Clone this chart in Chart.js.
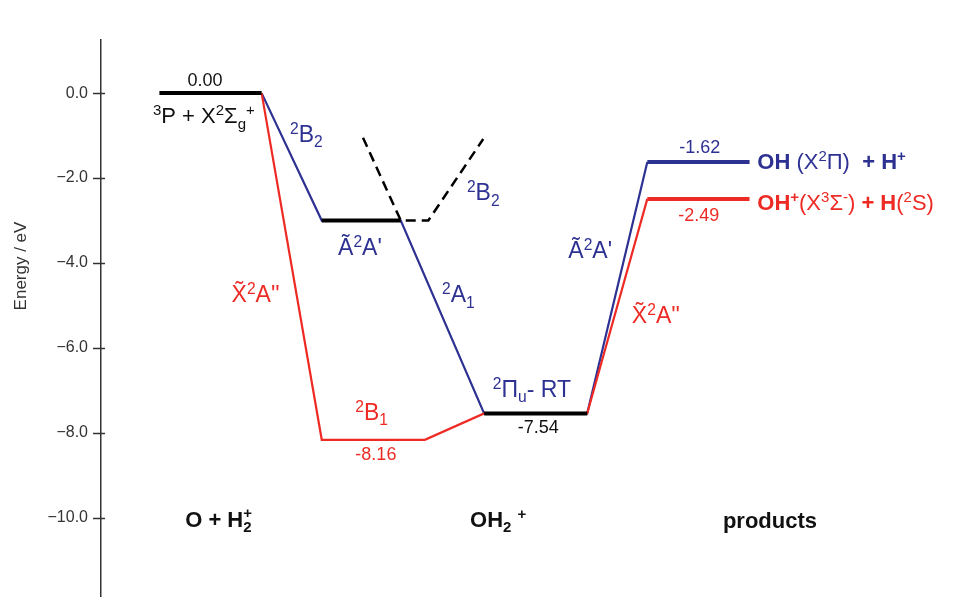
<!DOCTYPE html>
<html>
<head>
<meta charset="utf-8">
<script src="https://cdn.jsdelivr.net/npm/chart.js@4.4.1/dist/chart.umd.min.js"></script>
<style>
  html, body { margin: 0; padding: 0; background: #fff; }
  #wrap { width: 960px; height: 597px; }
</style>
</head>
<body>
<div id="wrap"><canvas id="pes"></canvas></div>
<script>
// reaction coordinate in arbitrary units (0-100), energies in eV
const levelX0 = [6.8, 25.7, 44.6];
const levelX1 = [18.7, 34.9, 56.6];
const levelE = [0.00, -3.00, -7.54];

// A' surface (blue)
const aPrimeX = [18.7, 25.7, 34.9, 44.6, 56.6, 63.6];
const aPrimeE = [0.00, -3.00, -3.00, -7.54, -7.54, -1.62];
// A'' surface (red)
const aDblX = [18.7, 25.7, 37.7, 44.6, 56.6, 63.6];
const aDblE = [0.00, -8.16, -8.16, -7.54, -7.54, -2.49];
// 2B2 branch (dashed)
const b2X = [30.5, 34.9, 38.1, 44.5];
const b2E = [-1.05, -3.00, -3.00, -1.08];
// product asymptotes
const prodX = [63.6, 75.5];
const prodE = [-1.62, -2.49];

const BLUE = '#2d3192';
const RED = '#ee2a24';
const FONT = '"Liberation Sans", Arial, Helvetica, sans-serif';

function pts(xs, es) {
  return xs.map((x, i) => ({x: x, y: es[i]}));
}
function flat(x0, x1, e) {
  return [{x: x0, y: e}, {x: x1, y: e}];
}

var datasets = [];
for (let i = 0; i < levelE.length; i++) {
  datasets.push({data: flat(levelX0[i], levelX1[i], levelE[i]), borderColor: '#000', borderWidth: 4});
}
datasets.push({data: flat(prodX[0], prodX[1], prodE[0]), borderColor: BLUE, borderWidth: 4});
datasets.push({data: flat(prodX[0], prodX[1], prodE[1]), borderColor: RED, borderWidth: 4});
datasets.push({data: pts(b2X, b2E), borderColor: '#000', borderWidth: 2.5, borderDash: [10, 6]});
datasets.push({data: pts(aDblX, aDblE), borderColor: RED, borderWidth: 2.2});
datasets.push({data: pts(aPrimeX, aPrimeE), borderColor: BLUE, borderWidth: 2.2});

// text parts: [text, kind]  kind: '' normal, 'b' bold, '^' sup, '_' sub, '_^' stacked "sub|sup"
const notes = [
  {x: 12.1, e: 0.165, size: 18, color: '#111', align: 'center', parts: [[levelE[0].toFixed(2), '']]},
  {x: 6.05, e: -0.71, size: 22, color: '#111', parts: [['3', '^'], ['P + X', ''], ['2', '^'], ['\u03a3', ''], ['g', '_'], ['+', '^']]},
  {x: 22.0, e: -1.15, size: 23, color: BLUE, parts: [['2', '^'], ['B', ''], ['2', '_']]},
  {x: 27.6, e: -3.81, size: 23, color: BLUE, parts: [['\u00c3', ''], ['2', '^'], ['A\'', '']]},
  {x: 42.6, e: -2.52, size: 23, color: BLUE, parts: [['2', '^'], ['B', ''], ['2', '_']]},
  {x: 39.7, e: -4.92, size: 23, color: BLUE, parts: [['2', '^'], ['A', ''], ['1', '_']]},
  {x: 15.2, e: -4.92, size: 23, color: RED, parts: [['X\u0303', ''], ['2', '^'], ['A\'\'', '']]},
  {x: 29.6, e: -7.69, size: 23, color: RED, parts: [['2', '^'], ['B', ''], ['1', '_']]},
  {x: 32.0, e: -8.635, size: 18, color: RED, align: 'center', parts: [[aDblE[1].toFixed(2), '']]},
  {x: 45.6, e: -7.15, size: 23, color: BLUE, parts: [['2', '^'], ['\u03a0', ''], ['u', '_'], ['- RT', '']]},
  {x: 50.9, e: -8.0, size: 18, color: '#111', align: 'center', parts: [[levelE[2].toFixed(2), '']]},
  {x: 54.4, e: -3.88, size: 23, color: BLUE, parts: [['\u00c3', ''], ['2', '^'], ['A\'', '']]},
  {x: 61.8, e: -5.41, size: 23, color: RED, parts: [['X\u0303', ''], ['2', '^'], ['A\'\'', '']]},
  {x: 69.7, e: -1.41, size: 18, color: BLUE, align: 'center', parts: [[prodE[0].toFixed(2), '']]},
  {x: 69.6, e: -3.01, size: 18, color: RED, align: 'center', parts: [[prodE[1].toFixed(2), '']]},
  {x: 76.4, e: -1.79, size: 22, color: BLUE, parts: [['OH ', 'b'], ['(X', ''], ['2', '^'], ['\u03a0)  ', ''], ['+ H', 'b'], ['+', 'b^']]},
  {x: 76.4, e: -2.75, size: 22, color: RED, parts: [['OH', 'b'], ['+', 'b^'], ['(X', ''], ['3', '^'], ['\u03a3', ''], ['-', '^'], [') ', ''], ['+ H', 'b'], ['(', ''], ['2', '^'], ['S)', '']]},
  {x: 9.8, e: -10.21, size: 22, color: '#111', parts: [['O + H', 'b'], ['2|+', 'b_^']]},
  {x: 42.96, e: -10.21, size: 22, color: '#111', parts: [['OH', 'b'], ['2', 'b_'], [' ', 'b'], ['+', 'b^']]},
  {x: 72.4, e: -10.24, size: 22, color: '#111', parts: [['products', 'b']]}
];

function partFont(kind, size) {
  const small = kind.indexOf('^') >= 0 || kind.indexOf('_') >= 0;
  const s = small ? size * 0.68 : size;
  return (kind.indexOf('b') >= 0 ? 'bold ' : '') + s.toFixed(1) + 'px ' + FONT;
}

function drawRich(ctx, n, x, y) {
  ctx.save();
  ctx.fillStyle = n.color;
  ctx.textAlign = 'left';
  ctx.textBaseline = 'alphabetic';
  const widths = n.parts.map(function (p) {
    ctx.font = partFont(p[1], n.size);
    if (p[1].indexOf('_^') >= 0) {
      const ab = p[0].split('|');
      return Math.max(ctx.measureText(ab[0]).width, ctx.measureText(ab[1]).width);
    }
    return ctx.measureText(p[0]).width;
  });
  const total = widths.reduce((a, b) => a + b, 0);
  let cx = n.align === 'center' ? x - total / 2 : x;
  n.parts.forEach(function (p, i) {
    const k = p[1];
    ctx.font = partFont(k, n.size);
    if (k.indexOf('_^') >= 0) {
      const ab = p[0].split('|');
      ctx.fillText(ab[0], cx, y + n.size * 0.24);
      ctx.fillText(ab[1], cx, y - n.size * 0.42);
    } else if (k.indexOf('^') >= 0) {
      ctx.fillText(p[0], cx, y - n.size * 0.36);
    } else if (k.indexOf('_') >= 0) {
      ctx.fillText(p[0], cx, y + n.size * 0.24);
    } else {
      ctx.fillText(p[0], cx, y);
    }
    cx += widths[i];
  });
  ctx.restore();
}

const diagramText = {
  id: 'diagramText',
  afterDraw(chart) {
    const ctx = chart.ctx;
    const xs = chart.scales.x, ys = chart.scales.y;
    const axisX = ys.right;
    // tick marks crossing the axis, short ones for odd values
    ctx.save();
    ctx.strokeStyle = '#333';
    ctx.lineWidth = 1.5;
    ys.ticks.forEach(function (t) {
      const py = Math.round(ys.getPixelForValue(t.value)) + 0.5;
      const major = Math.abs(t.value % 2) < 1e-6;
      ctx.beginPath();
      ctx.moveTo(axisX - (major ? 8 : 5), py);
      ctx.lineTo(axisX + 4, py);
      ctx.stroke();
    });
    ctx.restore();

    // axis title
    ctx.save();
    ctx.translate(21, 266);
    ctx.rotate(-Math.PI / 2);
    ctx.font = '17px ' + FONT;
    ctx.fillStyle = '#333';
    ctx.textAlign = 'center';
    ctx.textBaseline = 'middle';
    ctx.fillText('Energy / eV', 0, 0);
    ctx.restore();

    notes.forEach(function (n) {
      drawRich(ctx, n, xs.getPixelForValue(n.x), ys.getPixelForValue(n.e));
    });
  }
};

const ctx = document.getElementById('pes');
const pesChart = new Chart(ctx, {
  type: 'line',
  data: {datasets: datasets},
  options: {
    responsive: true,
    maintainAspectRatio: false,
    animation: false,
    layout: {padding: {top: 40, right: 0, bottom: 0, left: 0}},
    elements: {
      point: {radius: 0, hoverRadius: 0},
      line: {tension: 0, fill: false, borderJoinStyle: 'miter', borderCapStyle: 'butt'}
    },
    plugins: {legend: {display: false}, tooltip: {enabled: false}},
    events: [],
    scales: {
      x: {type: 'linear', min: 0, max: 100, display: false},
      y: {
        type: 'linear',
        min: -11.86,
        max: 1.25,
        afterFit: function (scale) {
          scale.width = 101;
          scale.paddingTop = 0;
          scale.paddingBottom = 0;
        },
        grid: {display: false, drawTicks: false},
        border: {display: true, color: '#333', width: 1.5},
        ticks: {
          stepSize: 1,
          includeBounds: false,
          padding: 13,
          color: '#333',
          font: {family: FONT, size: 16},
          callback: function (v) {
            if (Math.abs(v % 2) > 1e-6) return null;
            return (v < 0 ? '\u2212' : '') + Math.abs(v).toFixed(1);
          }
        }
      }
    }
  },
  plugins: [diagramText]
});
</script>
</body>
</html>
